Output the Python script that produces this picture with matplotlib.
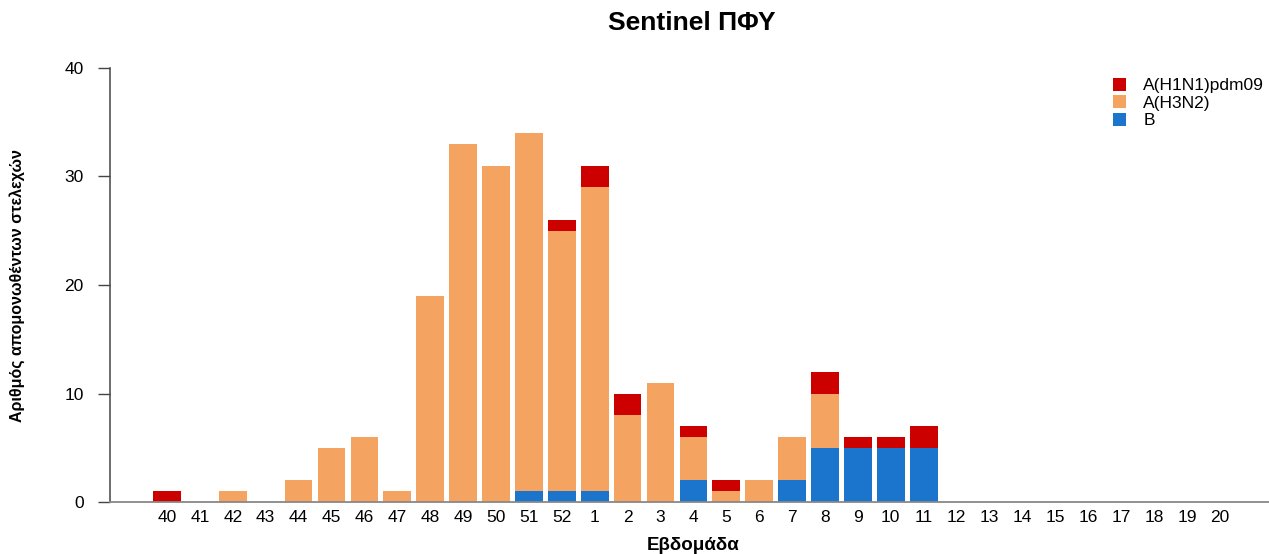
import matplotlib
matplotlib.use("Agg")
import matplotlib.pyplot as plt
from matplotlib.patches import Patch
import numpy as np

plt.rcParams['font.family'] = ['Liberation Sans', 'DejaVu Sans']

# weeks of the season
weeks = [40, 41, 42, 43, 44, 45, 46, 47, 48, 49, 50, 51, 52,
         1, 2, 3, 4, 5, 6, 7, 8, 9, 10, 11, 12, 13, 14, 15, 16, 17, 18, 19, 20]

# isolated strains per type
b_vals = [0, 0, 0, 0, 0, 0, 0, 0, 0, 0, 0, 1, 1,
          1, 0, 0, 2, 0, 0, 2, 5, 5, 5, 5, 0, 0, 0, 0, 0, 0, 0, 0, 0]
h3n2_vals = [0, 0, 1, 0, 2, 5, 6, 1, 19, 33, 31, 33, 24,
             28, 8, 11, 4, 1, 2, 4, 5, 0, 0, 0, 0, 0, 0, 0, 0, 0, 0, 0, 0]
h1n1_vals = [1, 0, 0, 0, 0, 0, 0, 0, 0, 0, 0, 0, 1,
             2, 2, 0, 1, 1, 0, 0, 2, 1, 1, 2, 0, 0, 0, 0, 0, 0, 0, 0, 0]

labels = ["A(H1N1)pdm09", "A(H3N2)", "B"]
colors = ["#CD0000", "#F4A460", "#1C75CD"]

W, H = 1269, 554
fig = plt.figure(figsize=(W / 100, H / 100), dpi=100)
ax = fig.add_axes([110 / W, (H - 502) / H, (W - 110) / W, (502 - 68) / H])

x = np.arange(len(weeks))
b = np.array(b_vals)
h3 = np.array(h3n2_vals)
h1 = np.array(h1n1_vals)
bw = 0.84
ax.bar(x, b, width=bw, color=colors[2], linewidth=0)
ax.bar(x, h3, width=bw, bottom=b, color=colors[1], linewidth=0)
ax.bar(x, h1, width=bw, bottom=b + h3, color=colors[0], linewidth=0)

step = 32.9
ax.set_xlim(-57 / step, (W - 167) / step)
ax.set_ylim(0, 40)

ax.spines['top'].set_visible(False)
ax.spines['right'].set_visible(False)
ax.spines['left'].set_bounds(0, 40)
ax.spines['left'].set_color('#444444')
ax.spines['bottom'].set_color('#888888')
ax.spines['left'].set_linewidth(1.1)
ax.spines['bottom'].set_linewidth(1.3)

ax.set_yticks([0, 10, 20, 30, 40])
ax.tick_params(axis='y', length=9, width=1.0, color='#444444', pad=10, labelsize=12.5)
ax.set_xticks(x)
ax.set_xticklabels([str(w) for w in weeks])
ax.tick_params(axis='x', length=0, pad=6, labelsize=12.5)

fig.text(692 / W, 1 - 23 / H, "Sentinel ΠΦΥ", ha='center', va='center',
         fontsize=19, fontweight='bold')
fig.text(693 / W, 1 - 546 / H, "Εβδομάδα", ha='center', va='center',
         fontsize=13.5, fontweight='bold')
fig.text(17 / W, 1 - 285 / H, "Αριθμός απομονωθέντων στελεχών", ha='center',
         va='center', rotation=90, fontsize=11.5, fontweight='bold')

handles = [Patch(facecolor=c, edgecolor='none') for c in colors]
fig.legend(handles, labels, loc='upper left', bbox_to_anchor=(1113 / W, 1 - 78 / H),
           frameon=False, fontsize=12.5, handlelength=0.75, handleheight=0.75,
           handletextpad=1.0, labelspacing=0.12, borderpad=0, borderaxespad=0)

fig.savefig("out.png", dpi=100)
